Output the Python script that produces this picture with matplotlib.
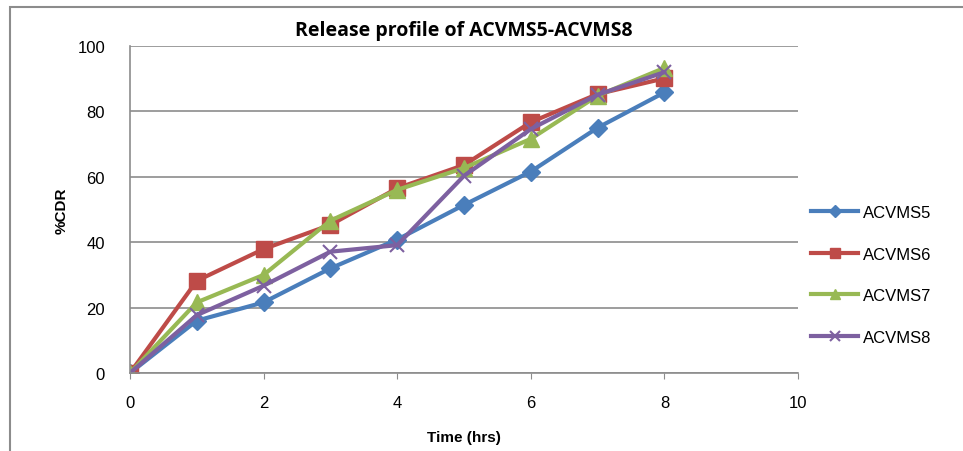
import matplotlib.pyplot as plt
from matplotlib.patches import Rectangle

# data
time_hrs = [0, 1, 2, 3, 4, 5, 6, 7, 8]
acvms5 = [0, 16.0, 21.6, 32.0, 40.8, 51.4, 61.6, 75.0, 85.8]
acvms6 = [0, 28.2, 37.9, 45.3, 56.5, 63.6, 76.7, 85.3, 90.1]
acvms7 = [0, 21.6, 30.0, 46.6, 56.0, 62.7, 71.6, 84.8, 93.3]
acvms8 = [0, 17.7, 26.7, 37.1, 39.1, 60.3, 74.6, 85.1, 92.0]
series_names = ['ACVMS5', 'ACVMS6', 'ACVMS7', 'ACVMS8']

plt.rcParams['font.family'] = ['Liberation Sans', 'DejaVu Sans']

fig = plt.figure(figsize=(9.63, 4.52), dpi=100)
ax = fig.add_axes([130 / 963, 78 / 452, 668 / 963, 327 / 452])

# gray frame around the whole chart (bottom and right run off the picture)
fig.patches.append(Rectangle((10 / 963, -0.05), 1.0, 0.05 + 444 / 452, transform=fig.transFigure,
                             fill=False, edgecolor='#8c8c8c', linewidth=1.5))

ax.plot(time_hrs, acvms5, color='#4a7ebb', lw=3, marker='D', ms=9, label=series_names[0])
ax.plot(time_hrs, acvms6, color='#be4b48', lw=3, marker='s', ms=11, label=series_names[1])
ax.plot(time_hrs, acvms7, color='#98b954', lw=3, marker='^', ms=11, label=series_names[2])
ax.plot(time_hrs, acvms8, color='#7d60a0', lw=3, marker='x', ms=10, mew=1.5, label=series_names[3])

ax.set_xlim(0, 10)
ax.set_ylim(0, 100)
ax.set_xticks(range(0, 11, 2))
ax.set_yticks(range(0, 101, 20))
ax.yaxis.grid(True, color='#8c8c8c', lw=1.2)
ax.set_axisbelow(True)
for s in ['top', 'right']:
    ax.spines[s].set_visible(False)
for s in ['left', 'bottom']:
    ax.spines[s].set_color('#8c8c8c')
    ax.spines[s].set_linewidth(1.2)
ax.tick_params(axis='both', labelsize=12, color='#8c8c8c', length=4)
ax.tick_params(axis='x', pad=12)
ax.tick_params(axis='y', length=0, pad=18)

ax.set_title('Release profile of ACVMS5-ACVMS8', fontsize=14, fontweight='bold',
             fontfamily=['Open Sans', 'DejaVu Sans'], pad=8)
ax.set_xlabel('Time (hrs)', fontsize=11, fontweight='bold', labelpad=14)
ax.set_ylabel('%CDR', fontsize=11, fontweight='bold', labelpad=6)

ax.legend(loc='center left', bbox_to_anchor=(1.0, 0.30), frameon=False, fontsize=12,
          labelspacing=1.6, handlelength=2.8, handletextpad=0.3, borderaxespad=0.4,
          markerscale=0.65)

fig.savefig('out.png', dpi=100)
